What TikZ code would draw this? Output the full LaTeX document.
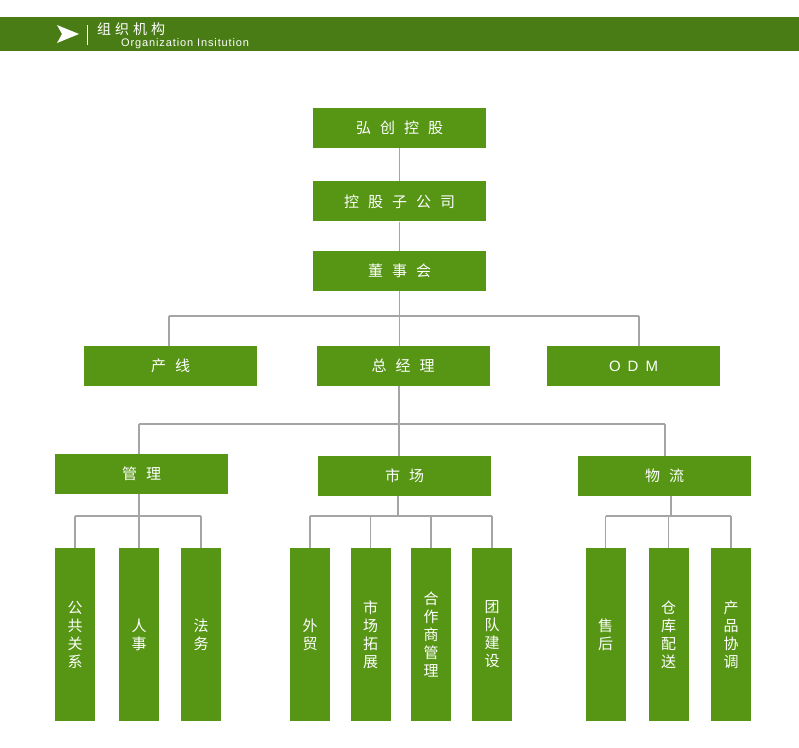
\documentclass[tikz,border=0pt]{standalone}
\usepackage{fontspec}
\newfontfamily\cjk{Noto Sans CJK SC}
\newfontfamily\latin{Liberation Sans}
\newfontfamily\latinsp[LetterSpace=8]{Liberation Sans}
\usetikzlibrary{positioning}
\definecolor{boxgreen}{RGB}{86,150,20}
\definecolor{bargreen}{RGB}{74,124,22}
\definecolor{linegray}{RGB}{165,165,165}
\tikzset{
  box/.style={fill=boxgreen, text=white, minimum width=173pt, minimum height=40pt,
    inner sep=0pt, font={\cjk\fontsize{15}{18}\selectfont\spaceskip=9pt}},
  tallbox/.style={box, minimum width=40pt, minimum height=173pt, align=center},
  link/.style={draw=linegray, line width=1.5pt},
}
\begin{document}
\begin{tikzpicture}[x=1pt, y=1pt]
    \useasboundingbox (0,0) rectangle (799,-747);
    \fill[bargreen] (0,-17) rectangle (799,-51);
    \fill[white] (57,-25) -- (79,-34) -- (57,-43) -- (62,-34) -- cycle;
    \draw[white, line width=0.8pt] (87,-25) -- (87,-45);
    \node[anchor=base west, inner sep=0pt, text=white, font={\cjk\fontsize{14}{14}\selectfont\spaceskip=4pt}] (title) at (97,-34) {组 织 机 构};
    \node[anchor=base west, inner sep=0pt, text=white, font={\latinsp\fontsize{11}{11}\selectfont}] (subtitle) at (121,-46.5) {Organization Insitution};

    \node[box] (hc) at (399.5,-128) {弘 创 控 股};
    \node[box, below=33pt of hc] (kg) {控 股 子 公 司};
    \node[box, below=29pt of kg] (dsh) {董 事 会};

    \node[box] (cx) at (170.5,-366) {产 线};
    \node[box] (zjl) at (403,-366) {总 经 理};
    \node[box, font={\latin\fontsize{15}{15}\selectfont\spaceskip=7pt}] (odm) at (633.5,-366) {O D M};

    \node[box] (gl) at (141.5,-474) {管 理};
    \node[box] (sc) at (404.5,-476) {市 场};
    \node[box] (wl) at (664.5,-476) {物 流};

    \node[tallbox] (ggx) at (75,-634.5) {公\\共\\关\\系};
    \node[tallbox] (rs) at (139,-634.5) {人\\事};
    \node[tallbox] (fw) at (201,-634.5) {法\\务};
    \node[tallbox] (wm) at (310,-634.5) {外\\贸};
    \node[tallbox] (sctz) at (370.5,-634.5) {市\\场\\拓\\展};
    \node[tallbox] (hzs) at (431,-634.5) {合\\作\\商\\管\\理};
    \node[tallbox] (tdjs) at (492,-634.5) {团\\队\\建\\设};
    \node[tallbox] (sh) at (605.5,-634.5) {售\\后};
    \node[tallbox] (ckps) at (668.5,-634.5) {仓\\库\\配\\送};
    \node[tallbox] (cpxt) at (731,-634.5) {产\\品\\协\\调};

    \draw[link] (hc) -- (kg);
    \draw[link] (kg) -- (dsh);

    \coordinate (b1) at (399.5,-316);
    \coordinate (b1w) at (169,-316);
    \coordinate (b1e) at (639,-316);
    \draw[link] (dsh.south) -- (b1);
    \draw[link] (b1w) -- (b1e);
    \draw[link] (b1w) -- (b1w |- cx.north);
    \draw[link] (b1) -- (b1 |- zjl.north);
    \draw[link] (b1e) -- (b1e |- odm.north);

    \coordinate (b2) at (399,-424);
    \coordinate (b2w) at (139,-424);
    \coordinate (b2e) at (665,-424);
    \draw[link] (b2 |- zjl.south) -- (b2);
    \draw[link] (b2w) -- (b2e);
    \draw[link] (b2w) -- (b2w |- gl.north);
    \draw[link] (b2) -- (b2 |- sc.north);
    \draw[link] (b2e) -- (b2e |- wl.north);

    \coordinate (b3) at (139,-516);
    \draw[link] (b3 |- gl.south) -- (b3);
    \draw[link] (ggx.north |- b3) -- (fw.north |- b3);
    \draw[link] (ggx.north |- b3) -- (ggx.north);
    \draw[link] (rs.north |- b3) -- (rs.north);
    \draw[link] (fw.north |- b3) -- (fw.north);

    \coordinate (b4) at (398,-516);
    \draw[link] (b4 |- sc.south) -- (b4);
    \draw[link] (wm.north |- b4) -- (tdjs.north |- b4);
    \draw[link] (wm.north |- b4) -- (wm.north);
    \draw[link] (sctz.north |- b4) -- (sctz.north);
    \draw[link] (hzs.north |- b4) -- (hzs.north);
    \draw[link] (tdjs.north |- b4) -- (tdjs.north);

    \coordinate (b5) at (671,-516);
    \draw[link] (b5 |- wl.south) -- (b5);
    \draw[link] (sh.north |- b5) -- (cpxt.north |- b5);
    \draw[link] (sh.north |- b5) -- (sh.north);
    \draw[link] (ckps.north |- b5) -- (ckps.north);
    \draw[link] (cpxt.north |- b5) -- (cpxt.north);
  \end{tikzpicture}
\end{document}
